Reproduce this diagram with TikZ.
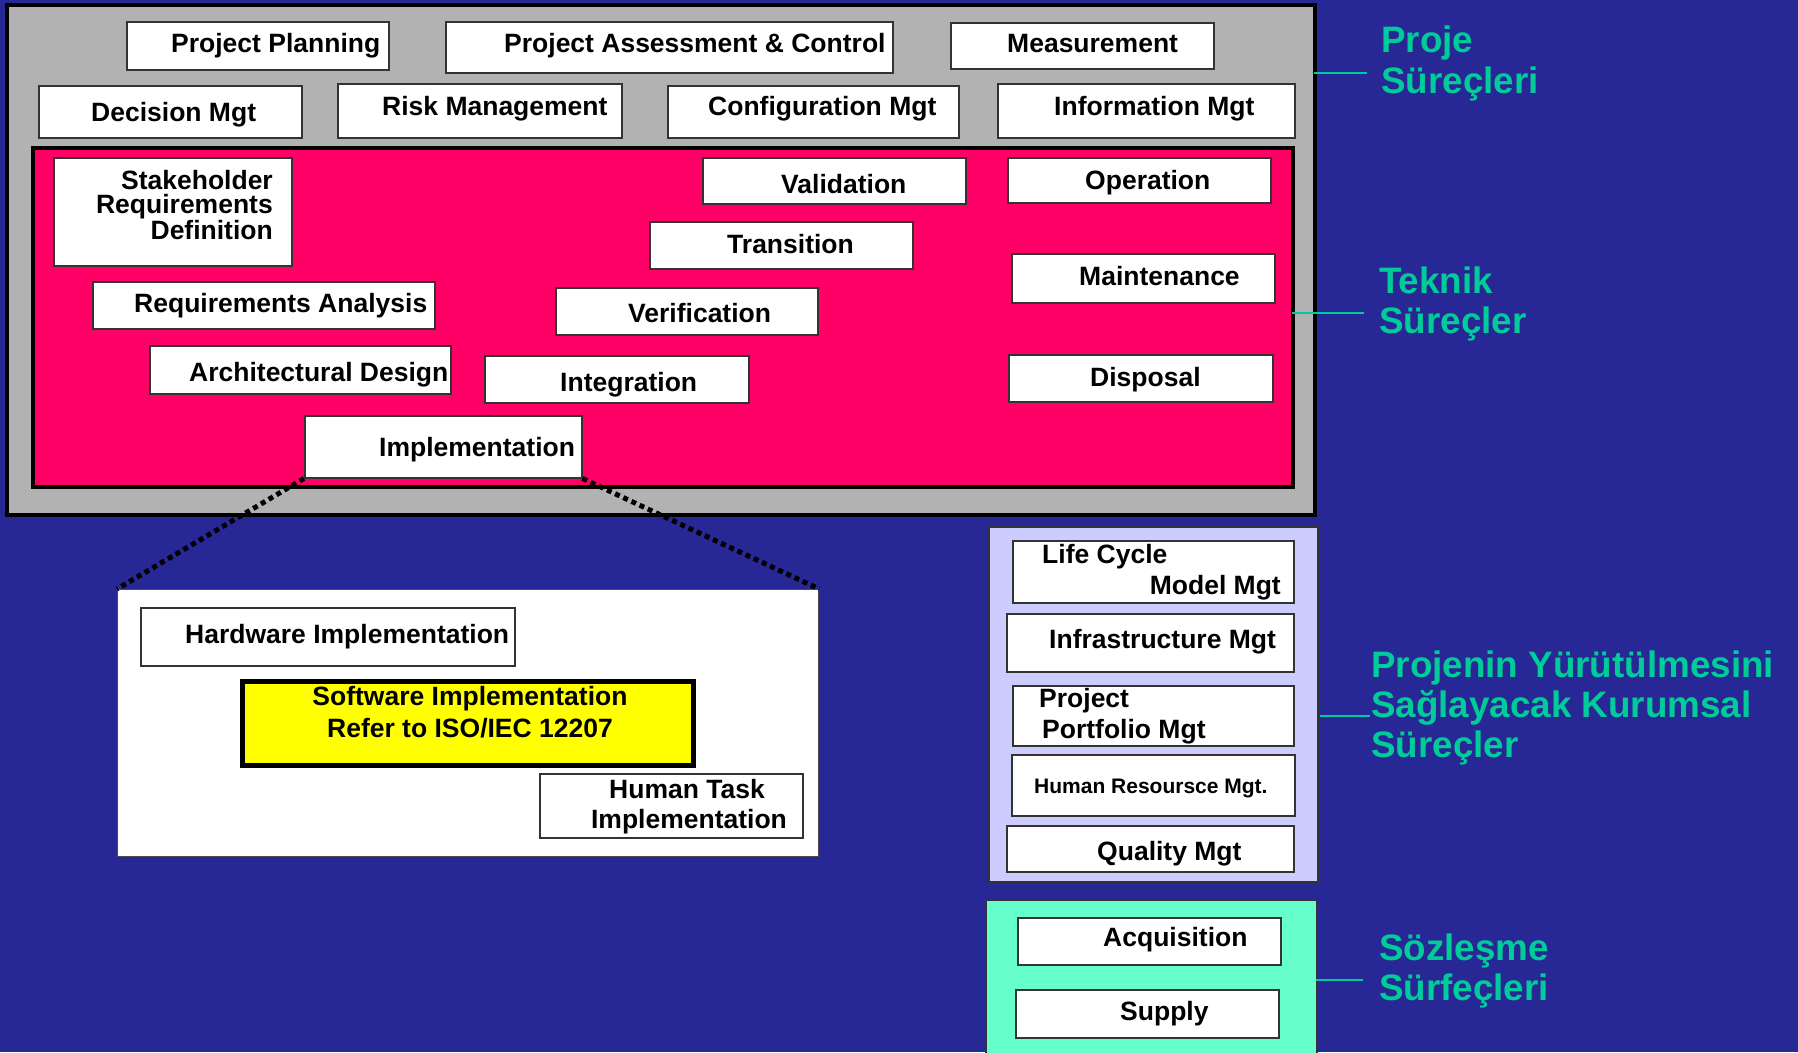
\documentclass[tikz,border=0pt]{standalone}
\usepackage{fontspec}
\setmainfont{Liberation Sans}
\definecolor{navy}{HTML}{272796}
\definecolor{tgreen}{HTML}{00CC99}
\definecolor{pinkc}{HTML}{FF0066}
\definecolor{grayc}{HTML}{B2B2B2}
\definecolor{lav}{HTML}{CCCCFF}
\definecolor{aqua}{HTML}{66FFCC}
\definecolor{yel}{HTML}{FFFF00}
\tikzset{
 bx/.style={draw=black!80, line width=1.5pt, fill=white, inner sep=0pt},
 tx/.style={inner sep=0pt, font=\fontsize{26.5}{30}\selectfont\bfseries},
 lbl/.style={inner sep=0pt, text=tgreen, font=\fontsize{36.8}{40}\selectfont\bfseries},
 gline/.style={draw=tgreen, line width=2.5pt},
 zoomline/.style={draw=black, line width=5pt, dash pattern=on 5pt off 4pt},
}
\newcommand{\boxat}[6][]{%
 \pgfmathsetmacro\myBW{#5-#3}\pgfmathsetmacro\myBH{#6-#4}%
 \node[bx,minimum width=\myBW pt,minimum height=\myBH pt,anchor=north west,#1] (#2) at (#3,#4) {};}
\newcommand{\tat}[5][]{\node[tx,anchor=base west,#1] (#2) at (#3,#4) {#5};}
\begin{document}
\begin{tikzpicture}[x=1pt,y=-1pt]
\useasboundingbox (0,0) rectangle (1798,1052);
\fill[navy] (0,0) rectangle (1798,1052);
% project processes
\boxat[fill=grayc,draw=black,line width=4pt]{outer}{5}{3}{1313}{513}
\boxat{pp}{126}{21}{388}{69}
\boxat{pac}{445}{21}{892}{72}
\boxat{meas}{950}{22}{1213}{68}
\boxat{dec}{38}{85}{301}{137}
\boxat{risk}{337}{83}{621}{137}
\boxat{conf}{667}{85}{958}{137}
\boxat{info}{997}{83}{1294}{137}
\tat{ppt}{171}{52}{Project Planning}
\tat{pact}{504}{52}{Project Assessment \& Control}
\tat{meast}{1007}{52}{Measurement}
\tat{dect}{91}{121}{Decision Mgt}
\tat{riskt}{382}{115}{Risk Management}
\tat{conft}{708}{115}{Configuration Mgt}
\tat{infot}{1054}{115}{Information Mgt}
% technical processes
\boxat[fill=pinkc,draw=black,line width=4pt]{pink}{31}{146}{1291}{485}
\boxat{stake}{53}{157}{291}{265}
\boxat{valid}{702}{157}{965}{203}
\boxat{oper}{1007}{157}{1270}{202}
\boxat{trans}{649}{221}{912}{268}
\boxat{maint}{1011}{253}{1274}{302}
\boxat{reqa}{92}{281}{434}{328}
\boxat{verif}{555}{287}{817}{334}
\boxat{arch}{149}{345}{450}{393}
\boxat{integ}{484}{355}{748}{402}
\boxat{disp}{1008}{354}{1272}{401}
\boxat{impl}{304}{415}{581}{477}
\tat[anchor=base east]{stake1}{273}{189}{Stakeholder}
\tat[anchor=base east]{stake2}{273}{213}{Requirements}
\tat[anchor=base east]{stake3}{273}{239}{Definition}
\tat{validt}{781}{193}{Validation}
\tat{opert}{1085}{189}{Operation}
\tat{transt}{727}{253}{Transition}
\tat{maintt}{1079}{285}{Maintenance}
\tat{reqat}{134}{312}{Requirements Analysis}
\tat{verift}{628}{322}{Verification}
\tat{archt}{189}{381}{Architectural Design}
\tat{integt}{560}{391}{Integration}
\tat{dispt}{1090}{386}{Disposal}
\tat{implt}{379}{456}{Implementation}
% implementation detail
\boxat[draw=black!70,line width=1.2pt]{low}{117}{589}{818}{856}
\draw[zoomline] (impl.south west) -- (low.north west);
\draw[zoomline] (impl.south east) -- (low.north east);
\boxat{hw}{140}{607}{514}{665}
\boxat[fill=yel,draw=black,line width=4.5pt]{sw}{240}{679}{691}{763}
\boxat{human}{539}{773}{802}{837}
\tat{hwt}{185}{643}{Hardware Implementation}
\tat[anchor=base]{sw1}{470}{705}{Software Implementation}
\tat[anchor=base]{sw2}{470}{737}{Refer to ISO/IEC 12207}
\tat[anchor=base]{hum1}{687}{798}{Human Task}
\tat[anchor=base]{hum2}{689}{828}{Implementation}
% organizational processes
\boxat[fill=lav,draw=black!80,line width=1.5pt]{lavb}{988}{526}{1317}{881}
\boxat{lcm}{1012}{540}{1293}{602}
\boxat{infra}{1006}{613}{1293}{671}
\boxat{ppm}{1012}{685}{1293}{745}
\boxat{hr}{1011}{754}{1294}{815}
\boxat{qual}{1006}{825}{1293}{871}
\tat{lcm1}{1042}{563}{Life Cycle}
\tat[anchor=base east]{lcm2}{1281}{594}{Model Mgt}
\tat{infrat}{1049}{648}{Infrastructure Mgt}
\tat{ppm1}{1039}{707}{Project}
\tat{ppm2}{1042}{738}{Portfolio Mgt}
\tat[font=\fontsize{21}{24}\selectfont\bfseries]{hrt}{1034}{793}{Human Resoursce Mgt.}
\tat{qualt}{1097}{860}{Quality Mgt}
% agreement processes
\boxat[fill=aqua,draw=black!80,line width=1.5pt]{aq}{985}{899}{1316}{1062}
\boxat{acq}{1017}{917}{1280}{964}
\boxat{sup}{1015}{989}{1278}{1037}
\tat{acqt}{1103}{946}{Acquisition}
\tat{supt}{1120}{1020}{Supply}
% labels
\node[lbl,anchor=base west] (l1a) at (1381,52) {Proje};
\node[lbl,anchor=base west] (l1b) at (1381,93) {Süreçleri};
\node[lbl,anchor=base west] (l2a) at (1379,293) {Teknik};
\node[lbl,anchor=base west] (l2b) at (1379,333) {Süreçler};
\node[lbl,anchor=base west] (l3a) at (1371,677) {Projenin Yürütülmesini};
\node[lbl,anchor=base west] (l3b) at (1371,717) {Sağlayacak Kurumsal};
\node[lbl,anchor=base west] (l3c) at (1371,757) {Süreçler};
\node[lbl,anchor=base west] (l4a) at (1379,960) {Sözleşme};
\node[lbl,anchor=base west] (l4b) at (1379,1000) {Sürfeçleri};
\coordinate (g1a) at (1314,73); \coordinate (g1b) at (1367,73);
\coordinate (g2a) at (1292,313); \coordinate (g2b) at (1364,313);
\coordinate (g3a) at (1320,716); \coordinate (g3b) at (1370,716);
\coordinate (g4a) at (1316,980); \coordinate (g4b) at (1363,980);
\draw[gline] (g1a) -- (g1b);
\draw[gline] (g2a) -- (g2b);
\draw[gline] (g3a) -- (g3b);
\draw[gline] (g4a) -- (g4b);
\end{tikzpicture}
\end{document}
